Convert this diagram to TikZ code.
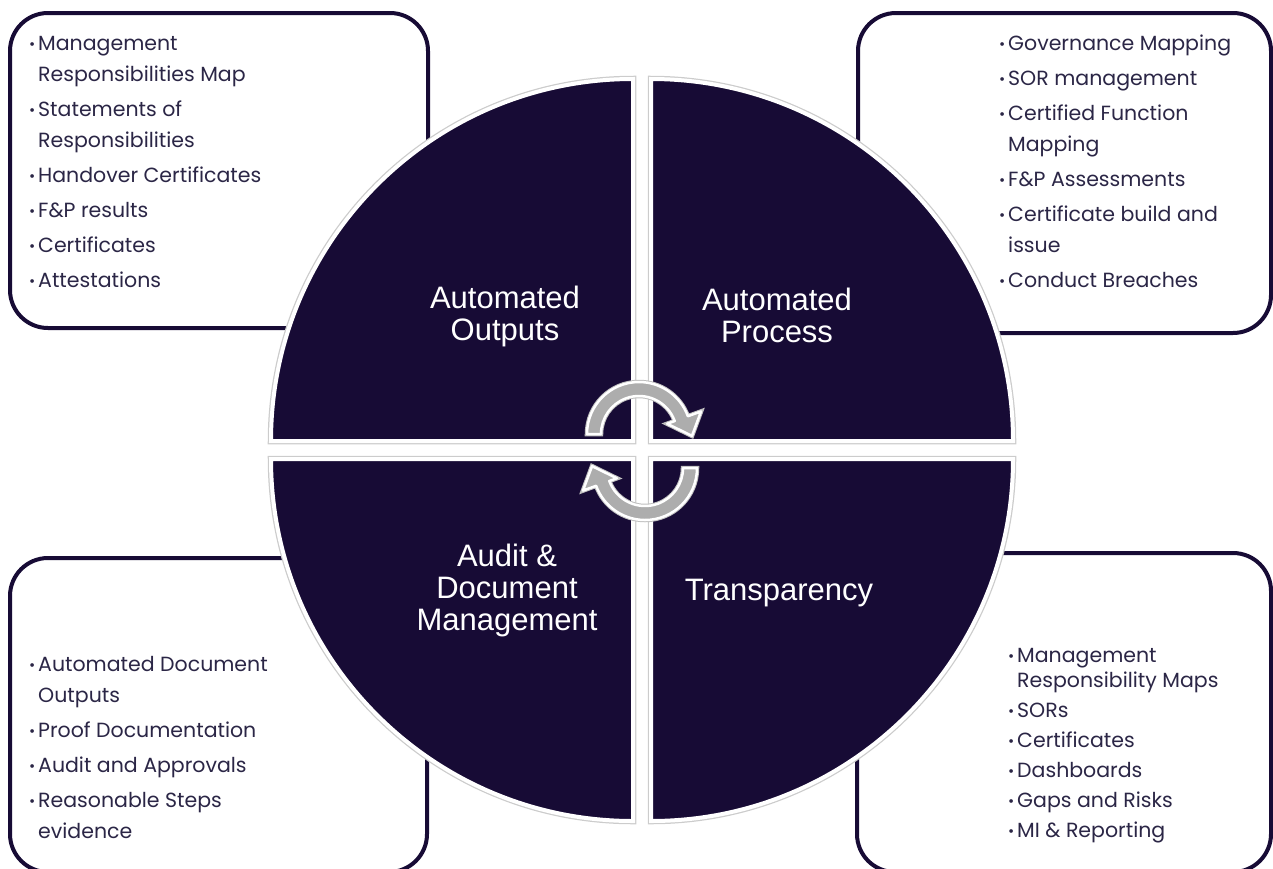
\documentclass[tikz,border=0pt]{standalone}
\usepackage{fontspec}
\setmainfont{Poppins}
\newfontfamily\labelfont{Liberation Sans}
\usetikzlibrary{positioning}

\definecolor{deepnavy}{HTML}{170B35}
\definecolor{listink}{HTML}{2B2646}
\definecolor{cyclegray}{HTML}{ADADAD}

\newcommand\bul{\makebox[9pt][l]{\raisebox{0.5pt}{\fontsize{15}{15}\selectfont\textbullet}}}
\newcommand\ind{\hspace*{9pt}}

\begin{document}
\begin{tikzpicture}[x=1pt, y=-1pt,
  panel/.style = {draw=deepnavy, line width=4pt, rounded corners=38pt, fill=white},
  quadrant/.style = {fill=deepnavy, draw=white, line width=4pt,
    preaction={draw=black!20, line width=6.5pt}},
  cyclearrow/.style = {fill=cyclegray, draw=white, line width=2.5pt, line join=round,
    preaction={draw=black!25, line width=4.5pt}},
  bullets/.style = {anchor=base west, inner sep=0pt, align=left, text=listink,
    font=\fontsize{20.5}{31}\selectfont},
  qlabel/.style = {anchor=base, inner sep=0pt, align=center, text=white,
    font=\labelfont\fontsize{31}{32}\selectfont}
]
\useasboundingbox (0,0) rectangle (1273,868);

\draw[panel] (10,13) rectangle (428,328);
\draw[panel] (858,13) rectangle (1271,333);
\draw[panel] (10,558) rectangle (427,872);
\draw[panel] (857,553) rectangle (1271,872);

\draw[quadrant] (633,441) -- ++(-362,0) arc (180:270:362) -- cycle;
\draw[quadrant] (651,441) -- ++(0,-362) arc (270:360:362) -- cycle;
\draw[quadrant] (651,459) -- ++(362,0) arc (0:90:362) -- cycle;
\draw[quadrant] (633,459) -- ++(0,362) arc (90:180:362) -- cycle;

\foreach \cx/\cy/\rot in {639/434/0, 645/468/180}
  \draw[cyclearrow, shift={(\cx,\cy)}, rotate=\rot]
    (180:52) arc (180:340:52) -- (340:66) -- (2:53) -- (340:30) -- (340:38)
    arc (340:180:38) -- cycle;

% anchors sit on the baseline of the last line
\node[qlabel] (outputs) at (505,340) {Automated\\Outputs};
\node[qlabel] (process) at (777,342) {Automated\\Process};
\node[qlabel] (audit) at (507,630) {Audit \&\\Document\\Management};
\node[qlabel] (transp) at (779,600) {Transparency};

\node[bullets] (outputs-list) at (29,287) {%
  \bul Management\\ \ind Responsibilities Map\\[4pt]
  \bul Statements of\\ \ind Responsibilities\\[4pt]
  \bul Handover Certificates\\[4pt]
  \bul F\&P results\\[4pt]
  \bul Certificates\\[4pt]
  \bul Attestations};

\node[bullets] (process-list) at (999,287) {%
  \bul Governance Mapping\\[4pt]
  \bul SOR management\\[4pt]
  \bul Certified Function\\ \ind Mapping\\[4pt]
  \bul F\&P Assessments\\[4pt]
  \bul Certificate build and\\ \ind issue\\[4pt]
  \bul Conduct Breaches};

\node[bullets] (audit-list) at (29,838) {%
  \bul Automated Document\\ \ind Outputs\\[4pt]
  \bul Proof Documentation\\[4pt]
  \bul Audit and Approvals\\[4pt]
  \bul Reasonable Steps\\ \ind evidence};

\node[bullets, font=\fontsize{20.5}{25}\selectfont] (transp-list) at (1008,837) {%
  \bul Management\\ \ind Responsibility Maps\\[5pt]
  \bul SORs\\[5pt]
  \bul Certificates\\[5pt]
  \bul Dashboards\\[5pt]
  \bul Gaps and Risks\\[5pt]
  \bul MI \& Reporting};
\end{tikzpicture}
\end{document}
